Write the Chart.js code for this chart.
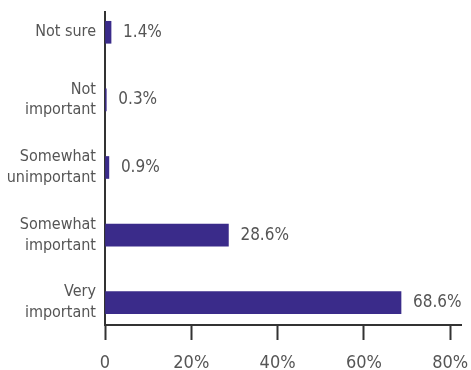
<!DOCTYPE html>
<html>
<head>
<meta charset="utf-8">
<script src="https://cdn.jsdelivr.net/npm/chart.js@4.4.0/dist/chart.umd.min.js"></script>
<style>
  html, body { margin: 0; padding: 0; background: #ffffff; }
  #wrap { width: 471px; height: 370px; position: relative; }
</style>
</head>
<body>
<div id="wrap"><canvas id="chart"></canvas></div>
<script>
// Data
const categories = [
    ['Not sure'],
    ['Not', 'important'],
    ['Somewhat', 'unimportant'],
    ['Somewhat', 'important'],
    ['Very', 'important']
];
const shares = [1.4, 0.3, 0.9, 28.6, 68.6];
const xTicks = [0, 20, 40, 60, 80];
const xTickLabels = ['0', '20%', '40%', '60%', '80%'];

const fontFamily = "'DejaVu Sans Condensed', 'Liberation Sans Narrow', sans-serif";
const axisColor = '#333333';
const textColor = '#555555';

// Value labels to the right of each bar
const valueLabels = {
    id: 'valueLabels',
    afterDatasetsDraw(chart) {
        const ctx = chart.ctx;
        const meta = chart.getDatasetMeta(0);
        ctx.save();
        ctx.font = '17px ' + fontFamily;
        ctx.fillStyle = textColor;
        ctx.textAlign = 'left';
        ctx.textBaseline = 'middle';
        meta.data.forEach((bar, i) => {
            ctx.fillText(shares[i].toFixed(1) + '%', bar.x + 12, bar.y);
        });
        ctx.restore();
    }
};

new Chart(document.getElementById('chart'), {
    type: 'bar',
    data: {
        datasets: [{
            data: shares.map((v, i) => ({ x: v, y: i })),
            backgroundColor: '#3a2b8a',
            borderWidth: 0,
            barThickness: 22
        }]
    },
    options: {
        indexAxis: 'y',
        responsive: true,
        maintainAspectRatio: false,
        animation: false,
        layout: { padding: { top: 12, right: 10, bottom: 0, left: 0 } },
        plugins: {
            legend: { display: false },
            tooltip: { enabled: false }
        },
        scales: {
            x: {
                type: 'linear',
                min: 0,
                max: 82.5,
                afterBuildTicks(axis) {
                    axis.ticks = xTicks.map(v => ({ value: v }));
                },
                afterFit(axis) {
                    axis.height = 45;
                    axis.paddingLeft = 0;
                    axis.paddingRight = 0;
                },
                border: { display: true, color: axisColor, width: 2 },
                grid: {
                    drawOnChartArea: false,
                    drawTicks: true,
                    tickLength: 15,
                    tickWidth: 2,
                    tickColor: axisColor
                },
                ticks: {
                    padding: 13,
                    color: textColor,
                    font: { family: fontFamily, size: 18 },
                    callback: (v) => xTickLabels[xTicks.indexOf(v)]
                }
            },
            y: {
                type: 'linear',
                reverse: true,
                offset: false,
                min: -0.3,
                max: 4.33,
                afterBuildTicks(axis) {
                    axis.ticks = categories.map((c, i) => ({ value: i }));
                },
                afterFit(axis) {
                    axis.width = 105;
                    axis.paddingTop = 0;
                    axis.paddingBottom = 0;
                },
                border: { display: true, color: axisColor, width: 2 },
                grid: { display: false, drawTicks: false, offset: false },
                ticks: {
                    padding: 9,
                    color: textColor,
                    font: { family: fontFamily, size: 16, lineHeight: 1.3 },
                    callback: (v) => categories[v]
                }
            }
        }
    },
    plugins: [valueLabels]
});
</script>
</body>
</html>
